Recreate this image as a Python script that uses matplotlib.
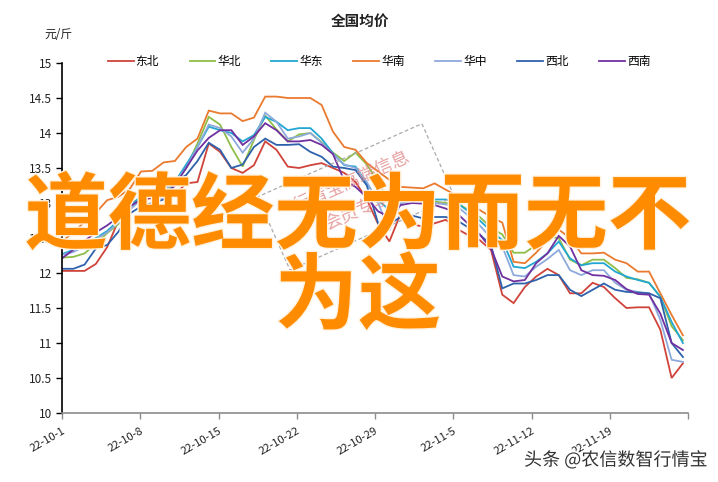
import matplotlib
matplotlib.use("Agg")
import matplotlib.pyplot as plt
import matplotlib.patheffects as pe
from matplotlib.patches import Rectangle
from matplotlib.transforms import IdentityTransform
import numpy as np

plt.rcParams['font.family'] = ['Noto Sans CJK SC', 'DejaVu Sans']

title = "全国均价"
unit = "元/斤"
series_names = ["东北", "华北", "华东", "华南", "华中", "西北", "西南"]
colors = ["#D0433B", "#8EBE47", "#22A7D2", "#EA7A2E", "#8EA9DB", "#2F62AC", "#7030A0"]
tick_labels = ["22-10-1", "22-10-8", "22-10-15", "22-10-22", "22-10-29",
               "22-11-5", "22-11-12", "22-11-19", ""]

dongbei = [12.03, 12.03, 12.03, 12.13, 12.37, 12.75, 13.0, 13.05, 13.07, 13.1,
           13.12, 13.28, 13.3, 13.85, 13.73, 13.5, 13.43, 13.54, 13.88, 13.76,
           13.52, 13.5, 13.54, 13.57, 13.5, 13.43, 13.3, 13.05, 12.7, 12.45,
           12.85, 12.7, 12.66, 12.71, 12.76, 12.63, 12.54, 12.47, 12.33, 11.69,
           11.57, 11.8, 11.95, 12.06, 11.97, 11.71, 11.71, 11.86, 11.8, 11.64,
           11.5, 11.51, 11.51, 11.19, 10.5, 10.71]
huabei = [12.22, 12.23, 12.28, 12.42, 12.57, 12.7, 12.95, 13.05, 13.1, 13.15,
          13.3, 13.5, 13.85, 14.23, 14.12, 13.8, 13.52, 13.9, 14.25, 14.05,
          13.88, 13.98, 14.0, 13.87, 13.72, 13.6, 13.72, 13.55, 13.3, 13.0,
          13.1, 13.15, 12.98, 13.02, 13.0, 13.0, 12.9, 12.8, 12.65, 12.55,
          12.29, 12.29, 12.4, 12.52, 12.5, 12.19, 12.11, 12.19, 12.19, 12.07,
          11.93, 11.91, 11.86, 11.66, 11.24, 11.04]
huadong = [12.27, 12.33, 12.4, 12.5, 12.6, 12.75, 12.95, 13.1, 13.15, 13.2,
           13.3, 13.55, 13.8, 14.09, 14.04, 14.0, 13.88, 13.97, 14.23, 14.16,
           14.04, 14.07, 14.07, 13.92, 13.71, 13.54, 13.52, 13.28, 13.04, 12.9,
           13.0, 13.04, 13.04, 13.05, 13.05, 13.0, 12.88, 12.75, 12.6, 12.47,
           12.09, 12.07, 12.16, 12.28, 12.45, 12.21, 12.11, 12.14, 12.14, 12.02,
           11.95, 11.9, 11.86, 11.66, 11.3, 11.0]
huanan = [12.45, 12.58, 12.73, 12.86, 13.04, 13.09, 13.2, 13.45, 13.46, 13.58,
          13.6, 13.8, 13.92, 14.32, 14.28, 14.28, 14.17, 14.22, 14.52, 14.52,
          14.5, 14.5, 14.5, 14.4, 14.02, 13.8, 13.76, 13.57, 13.45, 13.33,
          13.23, 13.22, 13.21, 13.28, 13.19, 13.1, 13.0, 12.9, 12.8, 12.72,
          12.16, 12.14, 12.29, 12.47, 12.62, 12.5, 12.28, 12.28, 12.29, 12.19,
          12.14, 12.02, 12.02, 11.71, 11.4, 11.11]
huazhong = [12.26, 12.3, 12.38, 12.48, 12.58, 12.72, 12.9, 13.05, 13.12, 13.18,
            13.3, 13.5, 13.8, 14.12, 14.07, 13.95, 13.72, 13.92, 14.29, 14.16,
            13.92, 13.95, 14.0, 13.86, 13.7, 13.55, 13.5, 13.3, 13.0, 12.61,
            13.0, 13.03, 13.03, 13.0, 12.98, 12.95, 12.82, 12.68, 12.5, 12.38,
            11.97, 11.95, 12.09, 12.2, 12.33, 12.04, 11.97, 12.04, 12.04, 11.86,
            11.76, 11.73, 11.71, 11.33, 10.76, 10.73]
xibei = [12.06, 12.06, 12.12, 12.35, 12.4, 12.59, 12.85, 12.95, 13.0, 13.05,
         13.3, 13.4, 13.6, 13.86, 13.76, 13.5, 13.55, 13.8, 13.92, 13.83,
         13.83, 13.84, 13.73, 13.66, 13.52, 13.5, 13.47, 13.25, 12.71, 12.7,
         12.8, 12.82, 12.78, 12.8, 12.8, 12.75, 12.65, 12.55, 12.4, 11.78,
         11.85, 11.85, 11.9, 11.97, 11.97, 11.76, 11.67, 11.76, 11.85, 11.76,
         11.73, 11.72, 11.71, 11.64, 11.0, 10.8]
xinan = [12.21, 12.33, 12.46, 12.58, 12.68, 12.8, 12.95, 13.05, 13.08, 13.08,
         13.25, 13.5, 13.75, 13.93, 14.04, 14.04, 13.83, 13.95, 14.14, 14.04,
         13.88, 13.88, 13.9, 13.83, 13.7, 13.32, 13.23, 13.08, 12.88, 12.8,
         12.97, 13.0, 12.99, 12.97, 12.92, 12.85, 12.7, 12.55, 12.35, 11.95,
         11.88, 11.9, 12.14, 12.28, 12.53, 12.38, 12.04, 11.97, 11.96, 11.9,
         11.77, 11.7, 11.69, 11.42, 11.0, 10.9]

series = [dongbei, huabei, huadong, huanan, huazhong, xibei, xinan]

W, H = 718, 482
fig = plt.figure(figsize=(W / 100, H / 100), dpi=100)
ax = fig.add_axes([62 / W, 1 - 413 / H, (688 - 62) / W, (413 - 63) / H])

n = len(dongbei)
idx = np.arange(n)
span = 55.45  # axis span in point-index units
for name, vals, c in zip(series_names, series, colors):
    ax.plot(idx, vals, color=c, lw=1.3, label=name, solid_joinstyle='miter')

ax.set_xlim(0, span)
ax.set_ylim(10, 15)
ax.set_yticks(np.arange(10, 15.01, 0.5))
ax.set_yticklabels([f"{v:g}" for v in np.arange(10, 15.01, 0.5)], fontsize=8.5, color="#222222")
ax.tick_params(axis='y', direction='out', length=4, width=1, color='black', pad=3)
ax.set_xticks([])
for s in ['top', 'right']:
    ax.spines[s].set_visible(False)
ax.spines['left'].set_color('black')
ax.spines['left'].set_linewidth(1.2)
ax.spines['bottom'].set_color('#8c8c8c')
ax.spines['bottom'].set_linewidth(1.2)

days_total = 56.0
sec = ax.secondary_xaxis('bottom', functions=(lambda x: x * days_total / span,
                                               lambda d: d * span / days_total))
sec.set_xticks(np.arange(0, 57, 7))
sec.set_xticklabels(tick_labels, rotation=30, ha='right', va='top',
                    rotation_mode='anchor', fontsize=8, color="#222222")
sec.tick_params(direction='out', length=4, width=1, color='#8c8c8c', pad=5)
sec.spines['bottom'].set_visible(False)

leg = fig.legend(loc='center', bbox_to_anchor=(379 / W, 1 - 62 / H), ncol=7,
                 frameon=False, fontsize=8.5, handlelength=2.2, handletextpad=0.15,
                 columnspacing=2.6)

fig.text(360 / W, 1 - 21 / H, title, ha='center', va='center', fontsize=10.5,
         fontweight='bold', color='#222222')
fig.text(44 / W, 1 - 34 / H, unit, ha='left', va='center', fontsize=8.5, color='#222222')

# stamp watermark
ang = 24
rect = Rectangle((290, H - 270), 180, 80, angle=ang, transform=IdentityTransform(),
                 fill=False, ec='#aaaaaa', lw=0.9, ls=(0, (3, 2)))
fig.add_artist(rect)
fig.text(352 / W, 1 - 182 / H, "行情宝高端信息", rotation=ang, ha='center', va='center',
         fontsize=13, color='#e08a8a', alpha=0.8, rotation_mode='anchor')
fig.text(357 / W, 1 - 210 / H, "会员专享", rotation=ang, ha='center', va='center',
         fontsize=13, color='#e08a8a', alpha=0.8, rotation_mode='anchor')

# big overlay text
fig.text(358 / W, 1 - 258 / H, "道德经无为而无不\n为这", ha='center', va='center',
         fontsize=60, fontweight='bold', color='#FF8C00', linespacing=0.93,
         path_effects=[pe.withStroke(linewidth=2, foreground='#fff2e0')])

fig.text(707 / W, 1 - 460 / H, "头条 @农信数智行情宝", ha='right', va='center',
         fontsize=13, color='#333333',
         path_effects=[pe.withStroke(linewidth=2.5, foreground='white')])

fig.savefig("out.png", dpi=100)
